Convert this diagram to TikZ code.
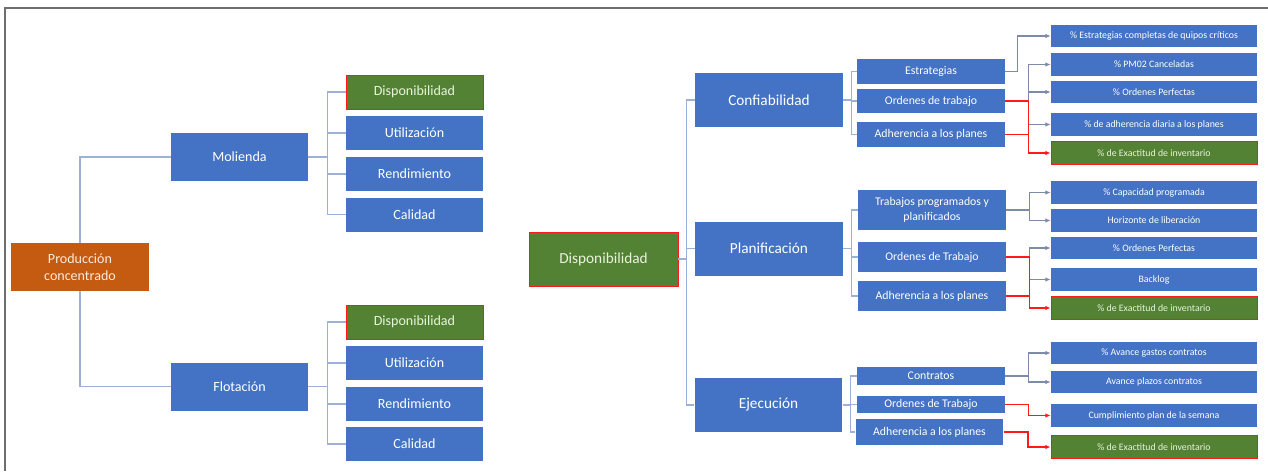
\documentclass[tikz,border=0pt]{standalone}
\usepackage{fontspec}
\setmainfont{Carlito}
\usepackage{tikz}
\usetikzlibrary{arrows.meta}
\definecolor{figblue}{HTML}{4472C4}
\definecolor{figgreen}{HTML}{548235}
\definecolor{figorange}{HTML}{C55A11}
\definecolor{figgtext}{HTML}{E8F3DC}
\definecolor{figotext}{HTML}{FCEBDD}
\definecolor{figlink}{HTML}{9DB0D6}
\definecolor{figarrow}{HTML}{7D8BA6}
\definecolor{figred}{HTML}{FF1A1A}
\definecolor{figframe}{HTML}{6E6E6E}
\tikzset{
  bx/.style   ={fill=figblue, text=white, inner sep=0pt, align=center},
  gbx/.style  ={bx, fill=figgreen, draw=figred, line width=0.5pt, text=figgtext},
  obx/.style  ={bx, fill=figorange, text=figotext},
  lft/.style  ={minimum width=2.74cm, font=\fontsize{8}{9.7}\selectfont},
  mid/.style  ={minimum width=2.96cm, minimum height=1.08cm, font=\fontsize{8.7}{10}\selectfont},
  sub/.style  ={minimum width=2.96cm, font=\fontsize{6.7}{8.2}\selectfont},
  kpi/.style  ={minimum width=4.12cm, minimum height=0.45cm, font=\fontsize{5.6}{6.5}\selectfont},
  lk/.style   ={draw=figlink, line width=0.6pt},
  lkr/.style  ={draw=figred, line width=0.8pt},
  ptr/.style  ={draw=figarrow, line width=0.6pt, -{Latex[length=3pt,width=2.6pt]}},
  ptrr/.style ={draw=figred, line width=0.8pt, -{Latex[length=3pt,width=2.6pt]}},
}
\begin{document}
\begin{tikzpicture}[x=0.02cm,y=-0.02cm]
  \useasboundingbox (0,0) rectangle (1268,471);
  \draw[draw=figframe,line width=0.9pt] (5,471) -- (5,8) -- (1268,8);
  % left tree
  \node[obx,lft,minimum width=2.76cm,minimum height=0.96cm] (prod) at (80,267) {Producción\\concentrado};
  \node[bx,lft,minimum height=0.96cm] (mol) at (239.5,157) {Molienda};
  \node[bx,lft,minimum height=0.96cm] (flo) at (239.5,386.5) {Flotación};
  \node[gbx,lft,minimum height=0.68cm] (m1) at (414.5,92) {Disponibilidad};
  \node[bx,lft,minimum height=0.68cm] (m2) at (414.5,133) {Utilización};
  \node[bx,lft,minimum height=0.68cm] (m3) at (414.5,174) {Rendimiento};
  \node[bx,lft,minimum height=0.68cm] (m4) at (414.5,214.5) {Calidad};
  \node[gbx,lft,minimum height=0.68cm] (f1) at (414.5,322) {Disponibilidad};
  \node[bx,lft,minimum height=0.68cm] (f2) at (414.5,363) {Utilización};
  \node[bx,lft,minimum height=0.68cm] (f3) at (414.5,404) {Rendimiento};
  \node[bx,lft,minimum height=0.68cm] (f4) at (414.5,444) {Calidad};
  \draw[lk] (prod.north) |- (mol.west);
  \draw[lk] (prod.south) |- (flo.west);
  \foreach \c in {m1,m2,m3,m4} \draw[lk] (mol.east) -- +(19,0) |- (\c.west);
  \foreach \c in {f1,f2,f3,f4} \draw[lk] (flo.east) -- +(19,0) |- (\c.west);
  % right tree
  \node[gbx,mid,minimum width=2.98cm] (disp) at (603.5,259) {Disponibilidad};
  \node[bx,mid] (conf) at (769,100) {Confiabilidad};
  \node[bx,mid] (plan) at (769,248.5) {Planificación};
  \node[bx,mid] (ejec) at (768.5,405) {Ejecución};
  \foreach \c in {conf,plan,ejec} \draw[lk] (disp.east) -- +(8,0) |- (\c.west);
  % Confiabilidad
  \node[bx,sub,minimum height=0.5cm] (cest) at (931,71.5) {Estrategias};
  \node[bx,sub,minimum height=0.48cm] (cord) at (931,101) {Ordenes de trabajo};
  \node[bx,sub,minimum height=0.5cm] (cadh) at (931,134.5) {Adherencia a los planes};
  \foreach \c in {cest,cord,cadh} \draw[lk] (conf.east) -- +(8,0) |- (\c.west);
  \node[bx,kpi] (k1) at (1154,36) {\% Estrategias completas de quipos críticos};
  \node[bx,kpi] (k2) at (1154,64.5) {\% PM02 Canceladas};
  \node[bx,kpi] (k3) at (1154,92) {\% Ordenes Perfectas};
  \node[bx,kpi] (k4) at (1154,124.5) {\% de adherencia diaria a los planes};
  \node[gbx,kpi] (k5) at (1154,153) {\% de Exactitud de inventario};
  \draw[ptr] (cest.east) -- +(12,0) |- (k1.west);
  \foreach \c in {k2,k3,k4} \draw[ptr] (cord.east) -- +(23,0) |- (\c.west);
  \draw[ptrr] (cord.east) -- +(23,0) |- (k5.west);
  \draw[lkr] (cadh.east) -- +(23,0);
  % Planificacion
  \node[bx,sub,minimum height=0.8cm] (ptra) at (932,210) {Trabajos programados y\\planificados};
  \node[bx,sub,minimum height=0.6cm] (pord) at (932,257) {Ordenes de Trabajo};
  \node[bx,sub,minimum height=0.6cm] (padh) at (932,296) {Adherencia a los planes};
  \foreach \c in {ptra,pord,padh} \draw[lk] (plan.east) -- +(8,0) |- (\c.west);
  \node[bx,kpi] (k6) at (1154,192.5) {\% Capacidad programada};
  \node[bx,kpi] (k7) at (1154,220.5) {Horizonte de liberación};
  \node[bx,kpi] (k8) at (1154,248) {\% Ordenes Perfectas};
  \node[bx,kpi] (k9) at (1154,279.5) {Backlog};
  \node[gbx,kpi] (k10) at (1154,308) {\% de Exactitud de inventario};
  \foreach \c in {k6,k7} \draw[ptr] (ptra.east) -- +(23,0) |- (\c.west);
  \foreach \c in {k8,k9} \draw[ptr] (pord.east) -- +(23,0) |- (\c.west);
  \draw[ptrr] (pord.east) -- +(23,0) |- (k10.west);
  \draw[lkr] (padh.east) -- +(23,0);
  % Ejecucion
  \node[bx,sub,minimum height=0.36cm] (econ) at (931,376) {Contratos};
  \node[bx,sub,minimum height=0.34cm] (eord) at (931,404.5) {Ordenes de Trabajo};
  \node[bx,sub,minimum height=0.52cm] (eadh) at (929.5,432) {Adherencia a los planes};
  \foreach \c in {econ,eord,eadh} \draw[lk] (ejec.east) -- +(8,0) |- (\c.west);
  \node[bx,kpi] (k11) at (1154,353) {\% Avance gastos contratos};
  \node[bx,kpi] (k12) at (1154,382) {Avance plazos contratos};
  \node[bx,kpi] (k13) at (1154,415.5) {Cumplimiento plan de la semana};
  \node[gbx,kpi] (k14) at (1154,447) {\% de Exactitud de inventario};
  \foreach \c in {k11,k12} \draw[ptr] (econ.east) -- +(23,0) |- (\c.west);
  \draw[ptrr] (eord.east) -- +(23,0) |- (k13.west);
  \draw[ptrr] (eadh.east) -- +(24,0) |- (k14.west);
\end{tikzpicture}
\end{document}
